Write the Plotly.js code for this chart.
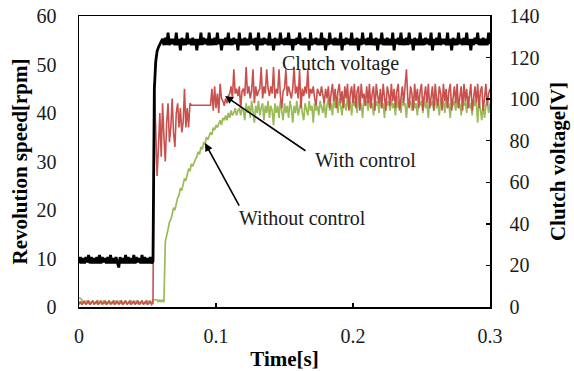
<!DOCTYPE html>
<html>
<head>
<meta charset="utf-8">
<script src="https://cdn.plot.ly/plotly-3.0.1.min.js"></script>
<style>html,body{margin:0;padding:0;background:#fff;}#chart{width:574px;height:371px;}</style>
</head>
<body>
<div id="chart"></div>
<script>
// Sampling step of the recorded signals [s]
const sampleStep = 0.001;

// Clutch voltage [V] (right axis)
const clutchVoltage = [
21,24,21,23.5,21,24,21.5,25,21,24,
21,23.5,21,24,21,25,21,24,21.5,23.5,
21,24,21,25,21,23.5,21,24,21.5,19,
24,21,23.5,21,25,21,24,21,23.5,21,
25,21,24,21.5,23.5,21,25,21,24,21,
23.5,21,24,21,22,105,118,123,125,126.5,
127.5,
129,126,129.5,126,132,126,129,126.5,129,126,
132,126,129,123.5,129.5,126,129,126,132,126.5,
129,126,129.5,126,129,123.5,129,126,132,126,
129.5,126.5,129,126,132,126,129,126,129.5,126,
132,126.5,129,123.5,129,126,129.5,126,132,126,
129,126,129.5,126.5,129,123.5,132,126,129,126,
129.5,126,129,126,132,126.5,129,126,129.5,123.5,
132,126,129,126,129.5,126.5,129,126,132,126,
129,123.5,129.5,126,129,126,132,126.5,129,126,
129.5,126,132,126,129,123.5,129,126,129.5,126.5,
132,126,129,126,129.5,126,129,123.5,132,126,
129,126.5,129.5,126,129,126,132,126,129.5,123.5,
129,126,132,126.5,129,126,129.5,126,129,126,
132,123.5,129,126,129.5,126.5,129,126,132,126,
129,126,129.5,123.5,129,126,132,126.5,129,126,
129.5,126,132,126,129,126,129.5,123.5,129,126.5,
132,126,129,126,129.5,126,129,126,132,123.5,
129,126.5,129.5,126,132,126,129,126,129.5,126,
132,126.5,129,123.5,129.5,126,129,126,132,126,
129,126,129.5,126.5,129,126,132,123.5,129,126,
129.5,126,132,126,129,126.5,129,126,132,126,
129,123.5,129.5,126,129,126,132,126.5,129,126,
129.5,126,132,126,129,123.5,129,126,129.5,126.5,
132,126,129,126,129.5,126,129,126,132,126.5
];

// Revolution speed with control [rpm] (left axis)
const withControl = [
0.5,1.2,0.5,0.8,1.3,0.5,0.8,1.2,0.5,0.8,
1.3,0.5,0.8,1.2,0.5,0.8,1.3,0.5,0.8,1.2,
0.5,0.8,1.3,0.5,0.8,1.2,0.5,0.8,1.3,0.5,
0.8,1.2,0.5,0.8,1.3,0.5,0.8,1.2,0.5,0.8,
1.3,0.5,0.8,1.2,0.5,0.8,1.3,0.5,0.8,1.2,
0.5,0.8,1.3,0.5,0.8,46,38,27,33,40,
31,42,35,30,38,42,34,37,43,36,
33,40,42,37,41,36,38,45,37,41,
37,42,41.6,41.6,41.6,41.6,41.6,41.6,41.6,41.6,
41.6,41.6,41.6,41.6,41.6,41.6,41.6,45,40.5,45.5,
41,44,40,46,43,42.5,41.5,43,42,43.5,
44,45.5,43,49,44,45,43.5,45.5,41,44.5,
45,43.5,49.5,44,45.5,43,44.5,49,42,45.5,
43.5,44.5,45,49.5,43,45.5,44,49,45,43.5,
45.5,44,49.5,43,45,44,49,43.5,41,44.5,
45,49,43.5,45.5,44,43,45,49.5,44,45.5,
43,49,41,45,43.5,45.5,44,49,43,45,
44,45.5,43,41.5,45,44,43.5,45.5,44,42,
45,43,45.5,41,44,46,42.5,45,41,44.5,
46,42,44.5,41,45.5,43,46,40.5,44,45.5,
42,46,41,44.5,45.5,40.5,46,43,44,41.5,
45.5,42,46,41,44,45.5,40.5,46,43.5,42,
45,41,46,43,40.5,45.5,44,41.5,46,42.5,
45,41,44.5,46,40.5,43,45.5,42,46,49,
43,41,45.5,44,40.5,46,42.5,45,41,44.5,
46,40.5,43.5,45.5,42,46,41,44,45.5,40.5,
46,43,41.5,45.5,44,40.5,46,42.5,45,41,
44.5,46,40.5,43,45.5,42,46,41,44,45.5,
40.5,46,42.5,45,41,44,46,40.5,43.5,45.5,
42,46,41,44.5,45.5,40.5,43,46,41.5,44,
45
];

// Revolution speed without control [rpm] (left axis)
const withoutControl = [
1.8,1.8,1.5,0.6,1.0,0.6,1.4,0.6,1.0,0.6,
1.4,0.6,1.0,0.6,1.4,0.6,1.0,0.6,1.4,0.6,
1.0,0.6,1.4,0.6,1.0,0.6,1.4,0.6,1.0,0.6,
1.4,0.6,1.0,0.6,1.4,0.6,1.0,0.6,1.4,0.6,
1.0,0.6,1.4,0.6,1.0,0.6,1.4,0.6,1.0,0.6,
1.4,0.6,1.0,0.6,1.4,1.5,1.5,1.5,1.0,1.5,
1.0,1.5,1.0,13.5,14.5,16,17.5,18,19,20.5,
20,21.5,22.5,23,24.5,24,25.5,26.5,26,27.5,
28.5,28,29.5,29,30,30.5,31,32,31.5,33,
32.5,34,33.5,35,34.5,35.5,36,35.5,37,36.5,
37.5,37,38,38.5,37.5,39,38.5,39.5,38.5,40,
39,40.5,39.5,40,41,39.5,40.5,41,39.5,41,
40.5,38.5,42,40,41.5,39,42.5,40.5,38,41.5,
40,42.5,39.5,41,42,38.5,41.5,40,42.5,39,
41.5,40.5,37.5,42,40,41.5,39,42.5,40.5,38.5,
42,40,41.5,39,42.5,41,38,41.5,40,42.5,
39.5,41,42.5,40,38.5,42,41,39.5,42.5,40.5,
41.5,38,42,40.5,41.5,39.5,42.5,41,40,42.5,
39,41.5,43,40.5,42,39.5,43.5,41,42.5,40,
43,41.5,39.5,43,42,40.5,43.5,41,42.5,39.5,
43,41.5,42.5,40,43.5,41,42,39,43,41.5,
42.5,40.5,43.5,41,42,39.5,43,41.5,42.5,40,
43.5,41,42,39,43,41.5,42.5,40.5,43,41,
42,39.5,43.5,41,42.5,40,43,41.5,42,39,
43,41.5,42.5,40.5,43.5,41,42,39.5,43,41.5,
42.5,40,43.5,41,42,39,43,41.5,42.5,40.5,
43.5,41,42,39.5,43,41.5,42.5,40,43.5,41,
42,39,43,41.5,42.5,40.5,43.5,41,42,39.5,
43,41.5,42.5,40,43.5,41,42,39.5,43,41.5,
42,38,43,40.5,38.5,42,39,41.5,42.5,40,
42
];

// Axis tick labels
const xTickVals = [0, 0.1, 0.2, 0.3];
const xTickText = ['0', '0.1', '0.2', '0.3'];
const leftTickVals = [0, 10, 20, 30, 40, 50, 60];
const rightTickVals = [0, 20, 40, 60, 80, 100, 120, 140];

const timeOf = arr => arr.map((_, i) => i * sampleStep);

const serif = 'Liberation Serif, Times New Roman, serif';
const txtColor = '#1a1a1a';

const traces = [
  {x: timeOf(clutchVoltage), y: clutchVoltage, yaxis: 'y2', type: 'scatter', mode: 'lines',
   line: {color: '#000000', width: 2.8}, hoverinfo: 'skip'},
  {x: timeOf(withoutControl), y: withoutControl, type: 'scatter', mode: 'lines',
   line: {color: '#9bbb59', width: 1.7}, hoverinfo: 'skip'},
  {x: timeOf(withControl), y: withControl, type: 'scatter', mode: 'lines',
   line: {color: '#c9504d', width: 1.6}, hoverinfo: 'skip'}
];

const annFont = {family: serif, size: 20, color: txtColor};
const tickFont = {family: serif, size: 20, color: txtColor};
const titleFont = {family: serif, size: 21, color: '#000'};

const layout = {
  width: 574, height: 371,
  margin: {l: 79, r: 84, t: 16, b: 64, pad: 0},
  paper_bgcolor: '#ffffff', plot_bgcolor: '#ffffff',
  showlegend: false,
  font: {family: serif, size: 20, color: txtColor},
  xaxis: {
    range: [0, 0.3], tickvals: xTickVals, ticktext: xTickText,
    ticks: 'inside', ticklen: 4, tickwidth: 1.5, tickcolor: '#000',
    showline: true, linecolor: '#000', linewidth: 1.5, mirror: true,
    showgrid: false, zeroline: false, ticklabelstandoff: 10,
    tickfont: tickFont,
    title: {text: '<b>Time[s]</b>', font: titleFont, standoff: 8}
  },
  yaxis: {
    range: [0, 60], tickvals: leftTickVals,
    ticks: '', showline: true, linecolor: '#000', linewidth: 1.5,
    showgrid: false, zeroline: false, ticklabelstandoff: 17,
    tickfont: tickFont,
    title: {text: '<b>Revolution speed[rpm]</b>', font: titleFont, standoff: 3}
  },
  yaxis2: {
    range: [0, 140], tickvals: rightTickVals, overlaying: 'y', side: 'right',
    ticks: 'inside', ticklen: 4, tickwidth: 1.5, tickcolor: '#000',
    showline: true, linecolor: '#000', linewidth: 1.5,
    showgrid: false, zeroline: false, ticklabelstandoff: 14,
    tickfont: tickFont,
    title: {text: '<b>Clutch voltage[V]</b>', font: titleFont, standoff: 12}
  },
  annotations: [
    {x: 0.1467, y: 50.3, xref: 'x', yref: 'y', text: 'Clutch voltage', showarrow: false,
     xanchor: 'left', yanchor: 'middle', font: annFont},
    {x: 0.1708, y: 30.3, xref: 'x', yref: 'y', text: 'With control', showarrow: false,
     xanchor: 'left', yanchor: 'middle', font: annFont},
    {x: 0.1066, y: 43.5, ax: 0.1664, ay: 32, xref: 'x', yref: 'y', axref: 'x', ayref: 'y',
     text: '', showarrow: true, arrowhead: 2, arrowsize: 1, arrowwidth: 1.6, arrowcolor: '#000'},
    {x: 0.1153, y: 18.35, xref: 'x', yref: 'y', text: 'Without control', showarrow: false,
     xanchor: 'left', yanchor: 'middle', font: annFont},
    {x: 0.092, y: 33.8, ax: 0.1175, ay: 20.6, xref: 'x', yref: 'y', axref: 'x', ayref: 'y',
     text: '', showarrow: true, arrowhead: 2, arrowsize: 1, arrowwidth: 1.6, arrowcolor: '#000'}
  ]
};

Plotly.newPlot('chart', traces, layout, {staticPlot: true, displayModeBar: false});
</script>
</body>
</html>
